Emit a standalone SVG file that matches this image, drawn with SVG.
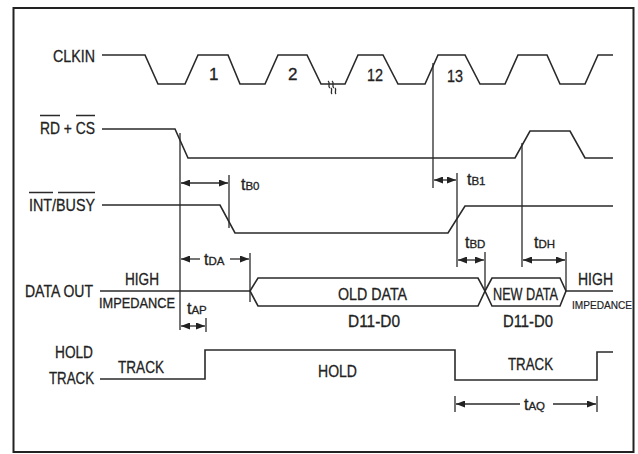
<svg xmlns="http://www.w3.org/2000/svg" width="638" height="454" viewBox="0 0 638 454">
<style>
.w{fill:none;stroke:#2a2a2a;stroke-width:1.6;stroke-linejoin:miter}
.d{fill:none;stroke:#2a2a2a;stroke-width:1.3}
.a{fill:none;stroke:#2a2a2a;stroke-width:1.3;marker-start:url(#ah);marker-end:url(#ah)}
text{font-family:"Liberation Sans Narrow","Liberation Sans",Arial,sans-serif;fill:#222;font-size:17px;stroke:#222;stroke-width:0.3}
.s{font-size:16px}
.sub{font-size:11.5px}
</style>
<defs>
<marker id="ah" viewBox="0 0 9 7" refX="9" refY="3.5" markerWidth="9" markerHeight="7" markerUnits="userSpaceOnUse" orient="auto-start-reverse">
<path d="M0,0 L9,3.5 L0,7 z" fill="#222"/>
</marker>
</defs>
<rect x="0" y="0" width="638" height="454" fill="#fff"/>
<rect id="frame" x="13.5" y="8" width="620" height="444" fill="none" stroke="#222" stroke-width="2"/>

<g id="clkin">
<text x="53" y="62" textLength="42" lengthAdjust="spacingAndGlyphs">CLKIN</text>
<path class="w" d="M102,55 H145 L158,84 H185 L198,55 H228 L240,84 H265 L278,55 H307 L321,84 H345 L358,55 H383 L398,84 H425 L438,55 H465 L480,84 H505 L518,55 H547 L560,84 H585 L598,55 H613"/>
<path class="d" d="M328,81 c3,2 -1,5 2,7 M332,81 c3,2 -1,5 2,7 M331,88 c2,2 -1,4 1,6 M335,88 c2,2 -1,4 1,6"/>
<text x="209" y="80">1</text>
<text x="288" y="80">2</text>
<text x="367" y="81" textLength="16" lengthAdjust="spacingAndGlyphs">12</text>
<text x="447" y="82" textLength="16" lengthAdjust="spacingAndGlyphs">13</text>
</g>

<g id="rdcs">
<text x="40" y="134" textLength="55" lengthAdjust="spacingAndGlyphs">RD + CS</text>
<path class="d" d="M40,115.5 H60 M76,115.5 H95"/>
<path class="w" d="M102,129 H175 L188,158 H515 L530,131 H570 L585,158 H613"/>
</g>

<g id="intbusy">
<text x="29" y="211" textLength="66" lengthAdjust="spacingAndGlyphs">INT/BUSY</text>
<path class="d" d="M29,192.5 H53 M58,192.5 H95"/>
<path class="w" d="M102,205 H220 L235,233 H448 L465,206 H613"/>
</g>

<g id="dataout">
<text x="25" y="297" textLength="68" lengthAdjust="spacingAndGlyphs">DATA OUT</text>
<text x="125" y="285" textLength="34" lengthAdjust="spacingAndGlyphs">HIGH</text>
<text x="99" y="308" style="font-size:14px" textLength="76" lengthAdjust="spacingAndGlyphs">IMPEDANCE</text>
<path class="w" d="M100,291 H250"/>
<path class="w" d="M250,291 L258,278 H478 L485,291 L478,306 H258 Z"/>
<path class="w" d="M485,291 L492,278 H560 L566,291 L560,306 H492 Z"/>
<path class="w" d="M566,291 H613"/>
<text x="338" y="300" textLength="69" lengthAdjust="spacingAndGlyphs">OLD DATA</text>
<text x="348" y="327" textLength="52" lengthAdjust="spacingAndGlyphs">D11-D0</text>
<text x="493" y="300" textLength="65" lengthAdjust="spacingAndGlyphs">NEW DATA</text>
<text x="503" y="327" textLength="50" lengthAdjust="spacingAndGlyphs">D11-D0</text>
<text x="578" y="285" textLength="35" lengthAdjust="spacingAndGlyphs">HIGH</text>
<text x="572" y="309" style="font-size:11px;stroke-width:0.2" textLength="60" lengthAdjust="spacingAndGlyphs">IMPEDANCE</text>
</g>

<g id="holdtrack">
<text x="55" y="358" textLength="38" lengthAdjust="spacingAndGlyphs">HOLD</text>
<text x="49" y="384" textLength="45" lengthAdjust="spacingAndGlyphs">TRACK</text>
<path class="w" d="M100,379 H205 V350 H455 V380 H597 V352 H613"/>
<text x="118" y="373" textLength="46" lengthAdjust="spacingAndGlyphs">TRACK</text>
<text x="318" y="377" textLength="39" lengthAdjust="spacingAndGlyphs">HOLD</text>
<text x="508" y="370" textLength="45" lengthAdjust="spacingAndGlyphs">TRACK</text>
</g>

<g id="connectors">
<path class="d" d="M180,133 V330"/>
<path class="d" d="M229,175 V228"/>
<path class="a" d="M181,183 H228"/>
<path class="d" d="M433,63 V188"/>
<path class="d" d="M457,173 V267"/>
<path class="a" d="M434,180 H456"/>
<path class="d" d="M250,253 V302"/>
<path class="d" d="M181,259 H200" style="marker-start:url(#ah)"/>
<path class="d" d="M230,259 H249" style="marker-end:url(#ah)"/>
<path class="d" d="M206,318 V332"/>
<path class="a" d="M181,326 H205"/>
<path class="d" d="M485,252 V291"/>
<path class="a" d="M458,260 H484"/>
<path class="d" d="M522,143 V267"/>
<path class="d" d="M566,252 V291"/>
<path class="a" d="M523,260 H565"/>
<path class="d" d="M455,396 V412 M597,396 V412"/>
<path class="d" d="M456,404 H520" style="marker-start:url(#ah)"/>
<path class="d" d="M553,404 H596" style="marker-end:url(#ah)"/>
</g>

<g id="timing-labels">
<text x="241" y="190" class="s">t<tspan class="sub">B0</tspan></text>
<text x="467" y="185" class="s">t<tspan class="sub">B1</tspan></text>
<text x="204" y="265" class="s">t<tspan class="sub">DA</tspan></text>
<text x="187" y="314" class="s">t<tspan class="sub">AP</tspan></text>
<text x="465" y="248" class="s">t<tspan class="sub">BD</tspan></text>
<text x="534" y="248" class="s">t<tspan class="sub">DH</tspan></text>
<text x="524" y="410" class="s">t<tspan class="sub">AQ</tspan></text>
</g>
</svg>
